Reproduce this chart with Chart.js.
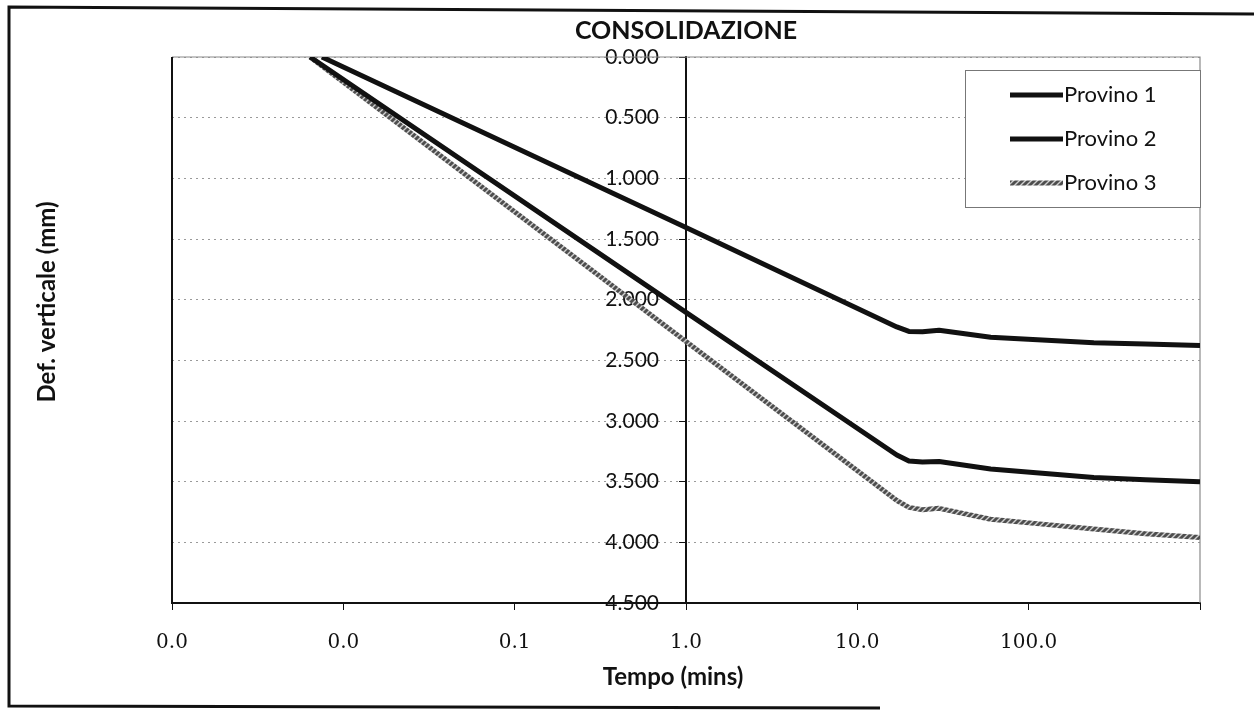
<!DOCTYPE html>
<html><head><meta charset="utf-8">
<script src="https://cdn.jsdelivr.net/npm/chart.js@4"></script>
<style>html,body{margin:0;padding:0;background:#fff}#wrap{width:1254px;height:713px;position:relative}</style>
</head><body><div id="wrap"><canvas id="c" width="1254" height="713"></canvas></div>
<script>
// ---- data ----
const chartTitle = 'CONSOLIDAZIONE';
const xTitle = 'Tempo (mins)';
const yTitle = 'Def. verticale (mm)';
const seriesNames = ['Provino 1', 'Provino 2', 'Provino 3'];
const tempo1 = [0.0075, 1, 17, 20, 24, 30, 60, 120, 240, 480, 1000];
const tempo2 = [0.0064, 1, 17, 20, 24, 30, 60, 120, 240, 480, 1000];
const tempo3 = [0.0064, 1, 17, 20, 24, 30, 60, 120, 240, 480, 1000];
const provino1 = [0, 1.405, 2.225, 2.262, 2.265, 2.252, 2.31, 2.333, 2.355, 2.366, 2.377];
const provino2 = [0, 2.105, 3.28, 3.33, 3.338, 3.333, 3.396, 3.43, 3.465, 3.485, 3.50];
const provino3 = [0, 2.345, 3.655, 3.712, 3.732, 3.72, 3.81, 3.85, 3.89, 3.93, 3.96];
const xTicks = [0.001, 0.01, 0.1, 1, 10, 100, 1000];
const xTickLabels = ['0.0', '0.0', '0.1', '1.0', '10.0', '100.0', ''];
const yTicks = [0, 0.5, 1, 1.5, 2, 2.5, 3, 3.5, 4, 4.5];

const canvas = document.getElementById('c');
const ctx0 = canvas.getContext('2d');

// hatched grey stroke for Provino 3
const pc = document.createElement('canvas'); pc.width = 6; pc.height = 6;
const p = pc.getContext('2d');
p.fillStyle = '#4e4e4e'; p.fillRect(0, 0, 6, 6);
p.strokeStyle = '#d0d0d0'; p.lineWidth = 1.4;
p.beginPath(); p.moveTo(0, 6); p.lineTo(6, 0); p.moveTo(-3, 3); p.lineTo(3, -3); p.moveTo(3, 9); p.lineTo(9, 3); p.stroke();
const hatch = ctx0.createPattern(pc, 'repeat');

const pts = (xs, ys) => xs.map((x, i) => ({x: x, y: ys[i]}));

const framePlugin = {
  id: 'frame',
  beforeDraw(chart) {
    const c = chart.ctx;
    c.save();
    c.fillStyle = '#fff'; c.fillRect(0, 0, chart.width, chart.height);
    c.strokeStyle = '#111'; c.lineWidth = 3;
    c.beginPath();
    c.moveTo(1254, 14); c.lineTo(9, 7); c.lineTo(9, 706); c.lineTo(880, 708);
    c.stroke();
    c.restore();
    // move the y tick labels (axis crossing at x = 1) away from the axis line
    try {
      const s = chart.scales.y;
      const items = s._computeLabelItems(chart.chartArea);
      items.forEach(it => { it.options.translation[0] -= 27; });
      s._labelItems = items;
    } catch (e) {}
  },
  beforeDatasetsDraw(chart) {
    const a = chart.chartArea, c = chart.ctx;
    c.save();
    c.strokeStyle = '#8a8a8a'; c.lineWidth = 1.2;
    c.beginPath(); c.moveTo(a.left, a.top); c.lineTo(a.right, a.top); c.lineTo(a.right, a.bottom); c.stroke();
    c.strokeStyle = '#111'; c.lineWidth = 2;
    c.beginPath(); c.moveTo(a.left, a.top); c.lineTo(a.left, a.bottom); c.stroke();
    c.restore();
  },
  afterDraw(chart) {
    const c = chart.ctx;
    // y axis title, at the far left
    c.save();
    c.translate(47, 302); c.rotate(-Math.PI / 2);
    c.font = 'bold 24px Lato'; c.fillStyle = '#111';
    c.textAlign = 'center'; c.textBaseline = 'middle';
    c.fillText(yTitle, 0, 0);
    c.restore();
    // x axis title
    c.save();
    c.font = 'bold 24px Lato'; c.fillStyle = '#111';
    c.textAlign = 'center'; c.textBaseline = 'middle';
    c.fillText(xTitle, 673, 677);
    c.restore();
    // legend box
    const bx = 965, by = 70, bw = 235, bh = 137;
    c.save();
    c.fillStyle = '#fff'; c.fillRect(bx, by, bw, bh);
    c.strokeStyle = '#777'; c.lineWidth = 1;
    c.strokeRect(bx + 0.5, by + 0.5, bw, bh);
    c.font = '22px Lato'; c.fillStyle = '#111'; c.textBaseline = 'middle'; c.textAlign = 'left';
    chart.data.datasets.forEach((ds, i) => {
      const y = 95 + i * 44;
      c.strokeStyle = ds.borderColor; c.lineWidth = ds.borderWidth;
      c.beginPath(); c.moveTo(1010, y); c.lineTo(1063, y); c.stroke();
      c.fillText(ds.label, 1064, y);
    });
    c.restore();
  }
};

new Chart(canvas, {
  type: 'line',
  data: {
    datasets: [
      {label: seriesNames[0], data: pts(tempo1, provino1), borderColor: '#111', borderWidth: 5},
      {label: seriesNames[1], data: pts(tempo2, provino2), borderColor: '#111', borderWidth: 5},
      {label: seriesNames[2], data: pts(tempo3, provino3), borderColor: hatch, borderWidth: 5}
    ]
  },
  options: {
    responsive: false,
    animation: false,
    devicePixelRatio: 1,
    layout: {padding: {left: 172, right: 54, top: 0, bottom: 0}},
    elements: {point: {radius: 0}, line: {tension: 0, fill: false, borderJoinStyle: 'round'}},
    plugins: {
      legend: {display: false},
      tooltip: {enabled: false},
      title: {display: true, text: chartTitle, color: '#111',
        font: {family: 'Lato', size: 25, weight: 'bold'}, padding: {top: 16, bottom: 11}}
    },
    scales: {
      x: {
        type: 'logarithmic', position: 'bottom', min: 0.001, max: 1000,
        afterBuildTicks: s => { s.ticks = xTicks.map(v => ({value: v})); },
        afterFit: s => { s.height = 110; },
        ticks: {autoSkip: false, maxRotation: 0, color: '#111', padding: 21,
          font: {family: 'DejaVu Serif', size: 20},
          callback: (v, i) => xTickLabels[i]},
        grid: {drawOnChartArea: false, drawTicks: true, tickLength: 7, tickColor: '#111', color: '#111'},
        border: {display: true, color: '#111', width: 2},
        title: {display: false}
      },
      y: {
        type: 'linear', reverse: true, min: 0, max: 4.5,
        position: {x: 1},
        afterBuildTicks: s => { s.ticks = yTicks.map(v => ({value: v})); },
        ticks: {color: '#111', padding: 20, font: {family: 'Lato', size: 21},
          callback: v => Number(v).toFixed(3)},
        grid: {color: '#9a9a9a', lineWidth: 1, tickLength: 6, tickColor: '#111', tickBorderDash: []},
        border: {display: true, color: '#111', width: 2, dash: [2, 4]}
      }
    }
  },
  plugins: [framePlugin]
});
</script>
</body></html>
